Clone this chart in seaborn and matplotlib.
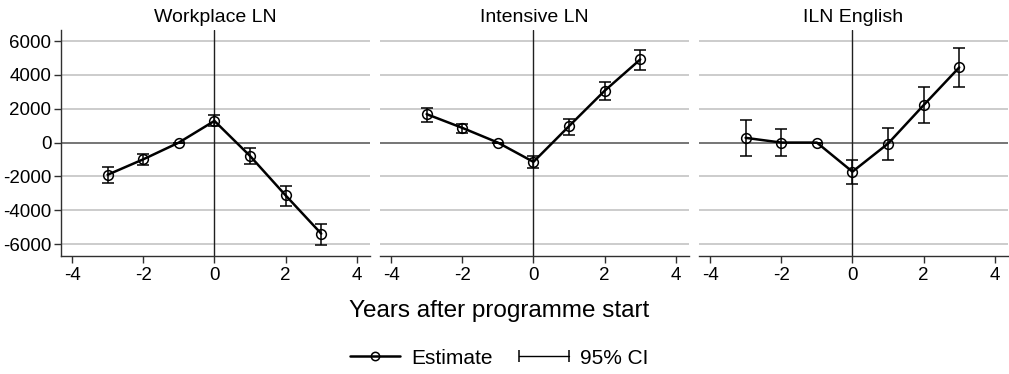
import numpy as np
import pandas as pd
import seaborn as sns
import matplotlib
matplotlib.use("Agg")
import matplotlib.pyplot as plt
from matplotlib.lines import Line2D
from matplotlib.legend_handler import HandlerLine2D

# ---- data ----
years = [-3, -2, -1, 0, 1, 2, 3]
panels = ["Workplace LN", "Intensive LN", "ILN English"]

wp_est = [-1900, -990, 0, 1280, -790, -3120, -5380]
wp_lo = [-2390, -1340, 0, 970, -1280, -3750, -6040]
wp_hi = [-1440, -650, 0, 1620, -300, -2580, -4790]

in_est = [1680, 870, 0, -1140, 970, 3060, 4910]
in_lo = [1220, 590, 0, -1500, 470, 2500, 4300]
in_hi = [2050, 1080, 0, -810, 1380, 3570, 5480]

en_est = [280, 0, 0, -1720, -60, 2210, 4440]
en_lo = [-770, -770, 0, -2430, -1010, 1160, 3290]
en_hi = [1320, 790, 0, -1010, 850, 3270, 5560]

y_ticks = [-6000, -4000, -2000, 0, 2000, 4000, 6000]
x_ticks = [-4, -2, 0, 2, 4]

series = {
    "Workplace LN": (wp_est, wp_lo, wp_hi),
    "Intensive LN": (in_est, in_lo, in_hi),
    "ILN English": (en_est, en_lo, en_hi),
}

sns.set_theme(style="white")
plt.rcParams["font.family"] = ["Liberation Sans", "DejaVu Sans"]
plt.rcParams["axes.unicode_minus"] = False
plt.rcParams["text.color"] = "black"
plt.rcParams["axes.labelcolor"] = "black"
plt.rcParams["xtick.labelcolor"] = "black"
plt.rcParams["ytick.labelcolor"] = "black"

fig = plt.figure(figsize=(10.09, 3.74), dpi=100)
W, H = 1009, 374
lefts = [61, 380, 699]
width = 309
top, bottom = 30, 256

for i, name in enumerate(panels):
    ax = fig.add_axes([lefts[i] / W, 1 - bottom / H, width / W, (bottom - top) / H])
    est, lo, hi = series[name]
    df = pd.DataFrame({"year": years, "est": est, "lo": lo, "hi": hi})
    for yt in y_ticks:
        if yt != 0:
            ax.axhline(yt, color="#c8c8c8", lw=1.3, zorder=0)
    ax.axhline(0, color="#505050", lw=1.1, zorder=1)
    ax.axvline(0, color="#202020", lw=1.0, zorder=1)
    ax.errorbar(df["year"], df["est"],
                yerr=[df["est"] - df["lo"], df["hi"] - df["est"]],
                fmt="none", ecolor="black", elinewidth=1.1, capsize=4,
                capthick=1.1, zorder=3)
    sns.lineplot(data=df, x="year", y="est", ax=ax, color="black", lw=1.8,
                 marker="o", markersize=7, markerfacecolor="none",
                 markeredgecolor="black", markeredgewidth=1.1, zorder=4)
    ax.set_xlim(-4.31, 4.37)
    ax.set_ylim(-6700, 6650)
    ax.set_xticks(x_ticks)
    ax.set_xticklabels([str(t) for t in x_ticks])
    ax.set_yticks(y_ticks)
    ax.set_xlabel("")
    ax.set_ylabel("")
    ax.set_title(name, fontsize=14, pad=6, color="black")
    for s in ["top", "right"]:
        ax.spines[s].set_visible(False)
    ax.spines["bottom"].set_color("#303030")
    ax.spines["bottom"].set_linewidth(1.0)
    ax.tick_params(axis="x", bottom=True, length=5, width=1, color="#303030",
                   labelsize=13.5, pad=3, labelcolor="black")
    if i == 0:
        ax.spines["left"].set_color("#303030")
        ax.spines["left"].set_linewidth(1.0)
        ax.set_yticklabels([str(t) for t in y_ticks])
        ax.tick_params(axis="y", left=True, length=5, width=1, color="#303030",
                       labelsize=13.5, pad=2, labelcolor="black")
    else:
        ax.spines["left"].set_visible(False)
        ax.tick_params(axis="y", left=False, labelleft=False)
    ax.grid(False)

fig.text(499 / W, 1 - 311 / H, "Years after programme start", ha="center",
         va="center", fontsize=17.5, color="black")

h_est = Line2D([], [], color="black", lw=1.8, marker="o", markersize=6,
               markerfacecolor="none", markeredgecolor="black", markeredgewidth=1.1)
h_ci = Line2D([], [], color="black", lw=1.0, marker="|", markersize=8,
              markeredgewidth=1.1)
leg = fig.legend([h_est, h_ci], ["Estimate", "95% CI"], loc="center",
                 bbox_to_anchor=(499 / W, 1 - 358 / H), ncol=2, frameon=False,
                 fontsize=15, handlelength=2.4, columnspacing=1.25,
                 handletextpad=0.55, labelcolor="black",
                 handler_map={h_est: HandlerLine2D(numpoints=1),
                              h_ci: HandlerLine2D(numpoints=2, marker_pad=0)})

fig.savefig("out.png", dpi=100, facecolor="white")
